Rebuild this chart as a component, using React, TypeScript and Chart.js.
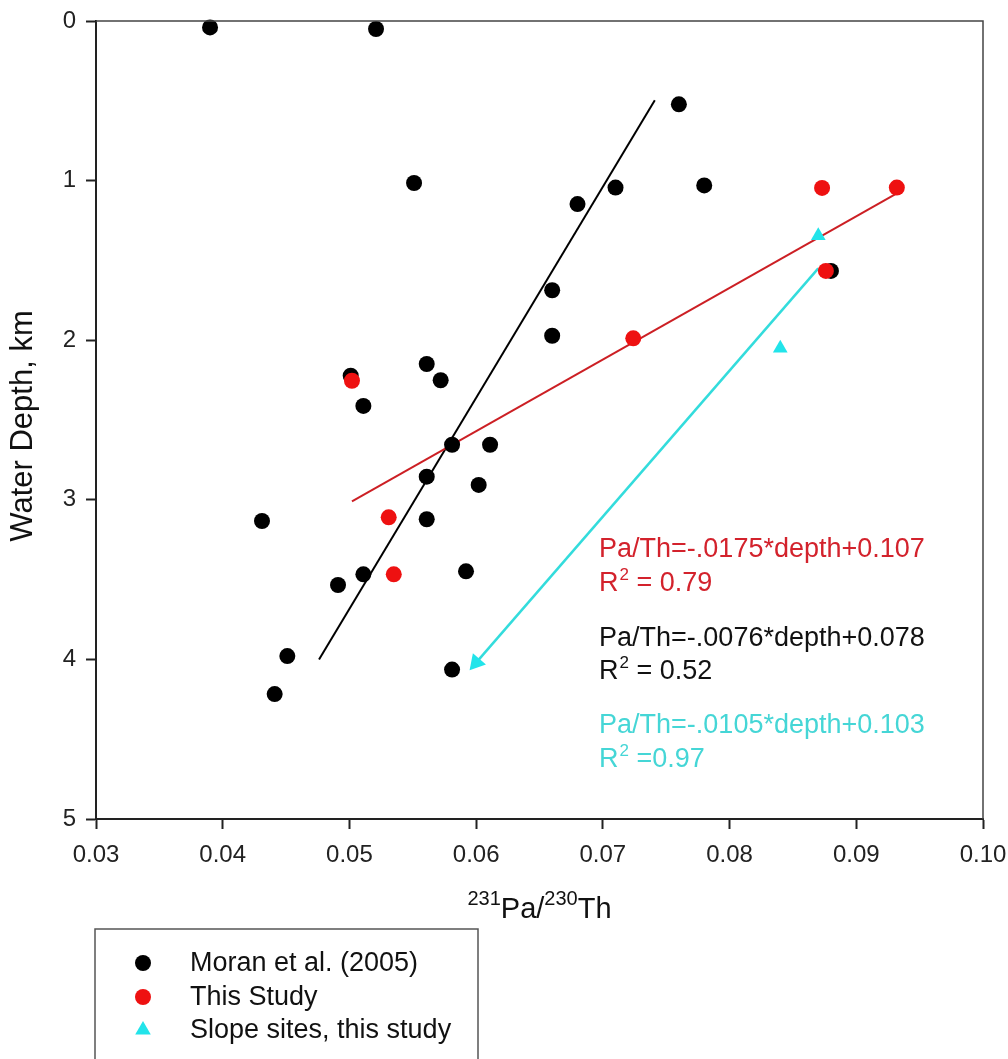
import React, { useEffect, useRef } from "react";
import { Chart, registerables } from "chart.js";

Chart.register(...registerables);

// ---- Data (231Pa/230Th vs water depth, km) ----
const moranX = [
  0.039, 0.0521, 0.0551, 0.076, 0.071, 0.078, 0.068, 0.066, 0.066, 0.088,
  0.0501, 0.0511, 0.0561, 0.0572, 0.0581, 0.0611, 0.0561, 0.0602, 0.0431,
  0.0561, 0.0511, 0.0491, 0.0592, 0.0451, 0.0441, 0.0581,
];
const moranDepth = [
  0.04, 0.05, 1.015, 0.522, 1.044, 1.03, 1.147, 1.687, 1.972, 1.566,
  2.222, 2.412, 2.149, 2.251, 2.655, 2.655, 2.855, 2.907, 3.133,
  3.122, 3.467, 3.534, 3.448, 3.979, 4.217, 4.064,
];
const studyX = [0.0502, 0.0531, 0.0535, 0.0724, 0.0873, 0.0932, 0.0876];
const studyDepth = [2.254, 3.11, 3.467, 1.988, 1.046, 1.044, 1.566];
const slopeX = [0.087, 0.084];
const slopeDepth = [1.345, 2.051];

// regression lines (end points)
const moranFitX = [0.0476, 0.0741];
const moranFitDepth = [4.0, 0.497];
const studyFitX = [0.0502, 0.0932];
const studyFitDepth = [3.01, 1.08];
const slopeFitX = [0.087, 0.06];
const slopeFitDepth = [1.55, 4.02];

const xTickValues = [0.03, 0.04, 0.05, 0.06, 0.07, 0.08, 0.09, 0.1];
const xTickLabels = ["0.03", "0.04", "0.05", "0.06", "0.07", "0.08", "0.09", "0.10"];
const yTickValues = [0, 1, 2, 3, 4, 5];
const yTickLabels = ["0", "1", "2", "3", "4", "5"];

const legendLabels = ["Moran et al. (2005)", "This Study", "Slope sites, this study"];
const equations = [
  "Pa/Th=-.0175*depth+0.107",
  "Pa/Th=-.0076*depth+0.078",
  "Pa/Th=-.0105*depth+0.103",
];
const r2Texts = [" = 0.79", " = 0.52", " =0.97"];

const FONT = '"Liberation Sans", Arial, Helvetica, sans-serif';
const BLACK = "#000000";
const RED = "#ee1111";
const RED_LINE = "#cc1f24";
const RED_TEXT = "#d3222c";
const CYAN = "#22e4ea";
const CYAN_LINE = "#33dcdc";
const CYAN_TEXT = "#45d6d6";
const annColors = [RED_TEXT, "#111111", CYAN_TEXT];

const pts = (xs: number[], ys: number[]) => xs.map((x, i) => ({ x, y: ys[i] }));

export default function App() {
  const ref = useRef<HTMLCanvasElement | null>(null);

  useEffect(() => {
    const canvas = ref.current;
    if (!canvas) return;

    const overlay = {
      id: "overlay",
      afterDraw(chart: any) {
        const ctx = chart.ctx as CanvasRenderingContext2D;
        const a = chart.chartArea;
        const xs = chart.scales.x;
        ctx.save();

        // frame top & right
        ctx.strokeStyle = "#444";
        ctx.lineWidth = 1.5;
        ctx.beginPath();
        ctx.moveTo(a.left, a.top);
        ctx.lineTo(a.right, a.top);
        ctx.lineTo(a.right, a.bottom);
        ctx.stroke();

        // y title
        ctx.fillStyle = "#111";
        ctx.save();
        ctx.translate(32, (a.top + a.bottom) / 2 + 6);
        ctx.rotate(-Math.PI / 2);
        ctx.font = `31px ${FONT}`;
        ctx.textAlign = "center";
        ctx.textBaseline = "alphabetic";
        ctx.fillText("Water Depth, km", 0, 0);
        ctx.restore();

        // x title with superscripts
        const big = `29px ${FONT}`;
        const sup = `20px ${FONT}`;
        const parts: [string, string, number][] = [
          ["231", sup, -13],
          ["Pa/", big, 0],
          ["230", sup, -13],
          ["Th", big, 0],
        ];
        let total = 0;
        for (const p of parts) {
          ctx.font = p[1];
          total += ctx.measureText(p[0]).width;
        }
        let cx = (a.left + a.right) / 2 - total / 2;
        const baseY = 918;
        ctx.textAlign = "left";
        for (const p of parts) {
          ctx.font = p[1];
          ctx.fillText(p[0], cx, baseY + p[2]);
          cx += ctx.measureText(p[0]).width;
        }

        // equation annotations
        const ax = xs.getPixelForValue(0.0697);
        const baselines = [[557, 591], [646, 679], [733, 767]];
        for (let i = 0; i < 3; i++) {
          ctx.fillStyle = annColors[i];
          ctx.font = `27px ${FONT}`;
          ctx.fillText(equations[i], ax, baselines[i][0]);
          const by = baselines[i][1];
          ctx.fillText("R", ax, by);
          const rw = ctx.measureText("R").width;
          ctx.font = `17px ${FONT}`;
          ctx.fillText("2", ax + rw + 1, by - 11);
          const sw = ctx.measureText("2").width;
          ctx.font = `27px ${FONT}`;
          ctx.fillText(r2Texts[i], ax + rw + sw + 1, by);
        }

        // legend box
        ctx.strokeStyle = "#555";
        ctx.lineWidth = 1.5;
        ctx.strokeRect(95, 929, 383, 200);
        const rows = [963, 997, 1030];
        const colors = [BLACK, RED, CYAN];
        for (let i = 0; i < 3; i++) {
          ctx.fillStyle = colors[i];
          ctx.beginPath();
          if (i < 2) {
            ctx.arc(143, rows[i], 8, 0, Math.PI * 2);
          } else {
            const r = 9;
            ctx.moveTo(143, rows[i] - r);
            ctx.lineTo(143 + r * Math.sin((2 * Math.PI) / 3), rows[i] + r / 2);
            ctx.lineTo(143 - r * Math.sin((2 * Math.PI) / 3), rows[i] + r / 2);
            ctx.closePath();
          }
          ctx.fill();
          ctx.fillStyle = "#111";
          ctx.font = `27px ${FONT}`;
          ctx.textBaseline = "middle";
          ctx.fillText(legendLabels[i], 190, rows[i] + 1);
          ctx.textBaseline = "alphabetic";
        }
        ctx.restore();
      },
    };

    const arrowRotation = (c: any) => {
      const ch = c.chart;
      const xs = ch.scales.x;
      const ys = ch.scales.y;
      if (!xs || !ys) return 0;
      const x0 = xs.getPixelForValue(slopeFitX[0]);
      const y0 = ys.getPixelForValue(slopeFitDepth[0]);
      const x1 = xs.getPixelForValue(slopeFitX[1]);
      const y1 = ys.getPixelForValue(slopeFitDepth[1]);
      const ang = (Math.atan2(y1 - y0, x1 - x0) * 180) / Math.PI;
      return ang + 90;
    };

    const chart = new Chart(canvas, {
      type: "scatter",
      data: {
        datasets: [
          {
            label: legendLabels[2],
            data: pts(slopeX, slopeDepth),
            pointStyle: "triangle",
            pointRadius: 8.5,
            backgroundColor: CYAN,
            borderColor: CYAN,
            borderWidth: 0,
            clip: false,
          },
          {
            label: legendLabels[1],
            data: pts(studyX, studyDepth),
            pointRadius: 8,
            backgroundColor: RED,
            borderColor: RED,
            borderWidth: 0,
            clip: false,
          },
          {
            label: legendLabels[0],
            data: pts(moranX, moranDepth),
            pointRadius: 8,
            backgroundColor: BLACK,
            borderColor: BLACK,
            borderWidth: 0,
            clip: false,
          },
          {
            label: "slope fit",
            data: pts(slopeFitX, slopeFitDepth),
            showLine: true,
            borderColor: CYAN_LINE,
            borderWidth: 2.5,
            pointStyle: "triangle",
            pointRadius: [0, 10],
            pointRotation: arrowRotation,
            pointBackgroundColor: CYAN,
            pointBorderWidth: 0,
            clip: false,
          },
          {
            label: "study fit",
            data: pts(studyFitX, studyFitDepth),
            showLine: true,
            borderColor: RED_LINE,
            borderWidth: 2,
            pointRadius: 0,
          },
          {
            label: "moran fit",
            data: pts(moranFitX, moranFitDepth),
            showLine: true,
            borderColor: BLACK,
            borderWidth: 2,
            pointRadius: 0,
          },
        ],
      } as any,
      options: {
        animation: false,
        responsive: false,
        devicePixelRatio: 1,
        events: [],
        layout: { padding: { left: 0, top: 21, right: 25, bottom: 0 } },
        plugins: {
          legend: { display: false },
          tooltip: { enabled: false },
        },
        scales: {
          x: {
            type: "linear",
            min: 0.03,
            max: 0.1,
            afterBuildTicks: (s: any) => {
              s.ticks = xTickValues.map((v) => ({ value: v }));
            },
            afterFit: (s: any) => {
              s.height = 240;
              s.paddingLeft = 0;
              s.paddingRight = 0;
            },
            ticks: {
              autoSkip: false,
              maxRotation: 0,
              padding: 12,
              color: "#222",
              font: { family: FONT, size: 24 },
              callback: (_v: any, i: number) => xTickLabels[i],
            },
            grid: {
              drawOnChartArea: false,
              drawTicks: true,
              tickLength: 10,
              tickColor: "#222",
              tickWidth: 2,
            },
            border: { display: true, color: "#222", width: 2 },
          },
          y: {
            type: "linear",
            min: 0,
            max: 5,
            reverse: true,
            afterBuildTicks: (s: any) => {
              s.ticks = yTickValues.map((v) => ({ value: v }));
            },
            afterFit: (s: any) => {
              s.width = 96;
              s.paddingTop = 0;
              s.paddingBottom = 0;
            },
            ticks: {
              autoSkip: false,
              padding: 10,
              color: "#222",
              font: { family: FONT, size: 24 },
              callback: (_v: any, i: number) => yTickLabels[i],
            },
            grid: {
              drawOnChartArea: false,
              drawTicks: true,
              tickLength: 10,
              tickColor: "#222",
              tickWidth: 2,
            },
            border: { display: true, color: "#222", width: 2 },
          },
        },
      } as any,
      plugins: [overlay],
    });

    return () => chart.destroy();
  }, []);

  return (
    <div
      style={{
        position: "fixed",
        left: 0,
        top: 0,
        width: 1008,
        height: 1059,
        background: "#fff",
      }}
    >
      <canvas ref={ref} width={1008} height={1059} style={{ display: "block" }} />
    </div>
  );
}
